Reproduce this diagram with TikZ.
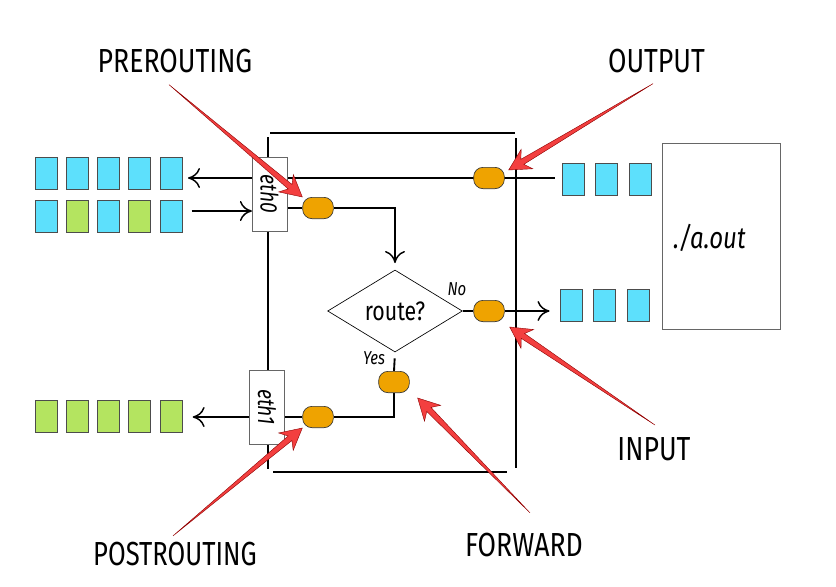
\documentclass[tikz,border=0pt]{standalone}
\usepackage{fontspec}
\setmainfont{Fira Sans}[FakeStretch=0.8]
\usepackage{graphicx}
\usetikzlibrary{shapes.geometric,calc,arrows.meta,backgrounds}
\definecolor{pktblue}{HTML}{5DE0FC}
\definecolor{pktgreen}{HTML}{B4E460}
\definecolor{hookorange}{HTML}{EFA300}
\definecolor{arrowred}{HTML}{F33F3F}
\tikzset{
  pkt/.style={draw=black!70,line width=0.7pt,minimum width=16.5pt,minimum height=24pt,inner sep=0pt},
  hook/.style={draw=black!80,fill=hookorange,rounded corners=7pt,minimum width=23pt,minimum height=16pt,inner sep=0pt,line width=0.5pt},
  iface/.style={draw=black!60,fill=white,minimum width=26pt,minimum height=55.5pt,inner sep=0pt,font=\itshape\fontsize{18}{21}\selectfont},
  chain/.style={inner sep=0pt,font=\fontsize{25}{30}\selectfont},
  hint/.style={inner sep=0pt,font=\itshape\fontsize{14}{16}\selectfont},
  wire/.style={line width=1.4pt},
  flow/.style={line width=1.4pt,-{To[length=9pt,width=15pt,line width=1.1pt]}}
}
\newcommand{\redarrow}[2]{%
  \filldraw[fill=arrowred,draw=red!55!black,line width=0.3pt] (#1)
    -- ($(#2)!12pt!(#1)!2.2pt!90:(#2)$)
    -- ($(#2)!16pt!(#1)!8.5pt!90:(#2)$)
    -- (#2)
    -- ($(#2)!16pt!(#1)!8.5pt!-90:(#2)$)
    -- ($(#2)!12pt!(#1)!2.2pt!-90:(#2)$)
    -- cycle;}
\begin{document}
\begin{tikzpicture}[x=0.75pt,y=-0.75pt]
\useasboundingbox (0,0) rectangle (836,586);
\foreach \i in {0,...,4}
{
\node[pkt,fill=pktblue] (lt\i) at (46+31.3*\i,173) {};
\node[pkt,fill=pktgreen] (lb\i) at (46+31.3*\i,416) {};
}
\foreach \i/\c in {0/pktblue,1/pktgreen,2/pktblue,3/pktgreen,4/pktblue}
\node[pkt,fill=\c] (lm\i) at (46+31.3*\i,216) {};
\foreach \i in {0,1,2}
{
\node[pkt,fill=pktblue] (rt\i) at (573+33.5*\i,179) {};
\node[pkt,fill=pktblue] (rb\i) at (571+33.5*\i,305) {};
}
\node[iface] (eth0) at (269.5,194) {\rotatebox{-90}{eth0}};
\node[iface] (eth1) at (267,407) {\rotatebox{-90}{eth1}};
\node[hook] (pre) at (318,208) {};
\node[hook] (out) at (489,178) {};
\node[hook] (in) at (489,311) {};
\node[hook] (fwd) at (394,382) {};
\node[hook] (post) at (318,417) {};
\node[draw,diamond,line width=0.5pt,minimum width=101pt,minimum height=61.5pt,inner sep=0pt,font=\fontsize{20}{24}\selectfont] (route) at (395,311) {route?};
\node[hint] (no) at (457,289) {No};
\node[hint] (yes) at (374,358) {Yes};
\node[draw=black!60,line width=0.7pt,minimum width=89pt,minimum height=139pt,inner sep=0pt] (aout) at (721.5,236.5) {};
\node[inner sep=0pt,anchor=west,font=\itshape\fontsize{22.5}{26}\selectfont] (prog) at (673,238) {./a.out};
\node[chain] (lblpre) at (175,61.5) {PREROUTING};
\node[chain] (lblout) at (656.5,61.5) {OUTPUT};
\node[chain] (lblin) at (654,449) {INPUT};
\node[chain] (lblfwd) at (524,545) {FORWARD};
\node[chain,xscale=0.96] (lblpost) at (175,554) {POSTROUTING};
\coordinate (outend) at ($(rt0.west |- out)+(-7,0)$);
\coordinate (inend) at ($(lm4.east)+(9,-5)$);
\begin{scope}[on background layer]
\draw[wire] (270,133) -- (515,133);
\draw[wire] (268,137) -- (268,469);
\draw[wire] (516,138) -- (516,468);
\draw[wire] (273,472) -- (507,472);
\draw[flow,shorten >=4pt] (outend) -- (lt4.east |- out);
\draw[flow] (inend) -- (eth0.west |- inend);
\draw[wire] (eth0.east |- pre) -- (pre.west);
\draw[flow,shorten >=5pt] (pre.east) -| (route.north);
\draw[wire] (route.east) -- (in.west);
\draw[flow,shorten >=7.5pt] (in.east) -- (rb0.west |- in);
\draw[wire,shorten <=4.5pt] (route.south) -- (fwd.north);
\draw[wire] (fwd.south) |- (post.east);
\draw[wire] (post.west) -- (eth1.east |- post);
\draw[flow,shorten >=7.5pt] (eth1.west |- post) -- (lb4.east |- post);
\end{scope}
\coordinate (tpre) at ($(lblpre.south)+(-6,11)$);
\coordinate (tout) at ($(lblout.south)+(-3.5,10)$);
\coordinate (tin) at ($(lblin.north)+(1,-12)$);
\coordinate (tfwd) at ($(lblfwd.north)+(6,-20)$);
\coordinate (tpost) at ($(lblpost.north)+(-2,-6)$);
\coordinate (hout) at ($(out.north east)+(4,3)$);
\coordinate (hin) at ($(in.south east)+(5,5)$);
\coordinate (hfwd) at ($(fwd.south east)+(8,5)$);
\redarrow{tpre}{pre.north west}
\redarrow{tout}{hout}
\redarrow{tin}{hin}
\redarrow{tfwd}{hfwd}
\redarrow{tpost}{post.south west}
\end{tikzpicture}
\end{document}
